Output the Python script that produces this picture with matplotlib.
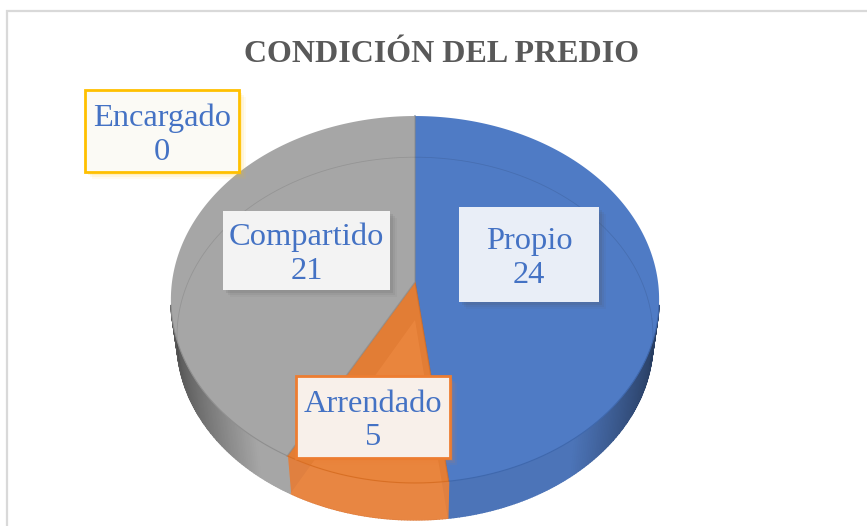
#!/usr/bin/python
# coding: utf-8
import numpy as np
import matplotlib
matplotlib.use('Agg')
import matplotlib.pyplot as plt
from matplotlib.patches import Rectangle

plt.rcParams['font.family'] = ['Liberation Serif', 'DejaVu Serif']

categorias = ['Propio', 'Arrendado', 'Compartido', 'Encargado']
valores = [24, 5, 21, 0]
titulo = 'CONDICIÓN DEL PREDIO'

col_top = ['#4f7bc5', '#e27d35', '#a6a6a6', '#ffc000']
col_wall = ['#4c74b8', '#e08040', '#a6a6a6', '#ffc000']
col_edge = ['#3f68ad', '#d86f24', '#8f8f8f', '#ffc000']
col_box_edge = [None, '#ed7d31', None, '#ffc000']
col_box_fill = ['#e9eef7', '#f8f0ea', '#f3f3f3', '#fbfaf5']
# caja de cada etiqueta: x0, y0, x1, y1 en pixeles
cajas = [(459, 207, 599, 302), (296, 376, 450, 458), (223, 211, 390, 290), (85, 90, 239, 172)]

# geometria del pie en perspectiva
cx, cy = 415., 282.
kx, ky, kp = 243., 181.8, 0.0954
# base: escala y desplazamiento
sb, dy = 0.975, 42.


def proj(ang, r=1., s=1., off=0.):
    x = r * np.cos(ang)
    y = r * np.sin(ang)
    w = 1 + kp * y
    return cx + s * kx * x / w, cy + off - s * ky * y / w


def shade(col, f):
    c = np.array(matplotlib.colors.to_rgb(col))
    return tuple(c * f)


fig = plt.figure(figsize=(8.67, 5.26), dpi=100)
ax = fig.add_axes([0, 0, 1, 1])
ax.set_xlim(0, 867)
ax.set_ylim(526, 0)
ax.axis('off')

ax.add_patch(Rectangle((6.5, 11), 900, 600, fc='white', ec='#d9d9d9', lw=1.6, zorder=0))

# angulos de cada sector, desde las 12 en sentido horario
fr = np.array(valores, dtype=float) / np.sum(valores)
fin = np.pi / 2 - 2 * np.pi * np.cumsum(fr)
ini = np.r_[np.pi / 2, fin[:-1]]

# pared lateral (solo la parte frontal), por segmentos
for i in range(len(valores)):
    if valores[i] == 0:
        continue
    tt = np.linspace(ini[i], fin[i], int(abs(ini[i] - fin[i]) * 90) + 2)
    for a0, a1 in zip(tt[:-1], tt[1:]):
        if np.sin((a0 + a1) / 2) > -0.12:
            continue
        xa, ya = proj(np.array([a0, a1]))
        xb, yb = proj(np.array([a1, a0]), s=sb, off=dy)
        c = abs(np.cos((a0 + a1) / 2))
        if i == 1:
            f = 1.0
        else:
            f = 1.0 - 0.5 * max(c - 0.6, 0) / 0.4
        col = shade(col_wall[i], f)
        ax.fill(np.r_[xa, xb], np.r_[ya, yb], fc=col, ec=col, lw=1.0, zorder=1)

# cara superior
for i in range(len(valores)):
    if valores[i] == 0:
        continue
    tt = np.linspace(ini[i], fin[i], 200)
    xs, ys = proj(tt)
    ax.fill(np.r_[cx, xs], np.r_[cy, ys], fc=col_top[i], ec='none', zorder=2)
    # aristas radiales
    ax.plot([xs[0], cx, xs[-1]], [ys[0], cy, ys[-1]], color=col_edge[i], lw=0.9, alpha=0.8, zorder=2)

# cara inferior vista a traves del sector naranja
tt = np.linspace(ini[1], fin[1], 80)
xs, ys = proj(tt, s=sb, off=dy)
ax.fill(np.r_[cx, xs], np.r_[cy + dy - 4, ys], fc='#f08c45', ec='none', alpha=0.55, zorder=3)

# borde de la base, visible por transparencia en la parte trasera
tt = np.linspace(0, 2 * np.pi, 400)
xs, ys = proj(tt, s=sb, off=dy - 5)
m = np.sin(tt) > -0.25
ax.plot(np.where(m, xs, np.nan), np.where(m, ys, np.nan), color='k', alpha=0.10, lw=0.6, zorder=3)

# arista frontal de la cara superior
for i in range(3):
    tt = np.linspace(ini[i], fin[i], 200)
    xs, ys = proj(tt)
    m = np.sin(tt) < -0.12
    ax.plot(np.where(m, xs, np.nan), np.where(m, ys, np.nan), color=col_edge[i], lw=0.8, zorder=3)

# etiquetas
for i in range(len(categorias)):
    x0, y0, x1, y1 = cajas[i]
    for d, a in zip([8, 6, 4], [0.06, 0.09, 0.13]):
        sc = col_box_edge[i] if col_box_edge[i] else '#555555'
        ax.add_patch(Rectangle((x0 + d - 1, y0 + d - 1), x1 - x0, y1 - y0, fc=sc, ec='none', alpha=a, zorder=4))
    ec = col_box_edge[i] if col_box_edge[i] else 'none'
    ax.add_patch(Rectangle((x0, y0), x1 - x0, y1 - y0, fc=col_box_fill[i], ec=ec, lw=2.0, zorder=5))
    ax.text((x0 + x1) / 2, (y0 + y1) / 2 + 4, '%s\n%d' % (categorias[i], valores[i]), color='#4472c4',
            fontsize=23.4, ha='center', va='center', linespacing=1.22, zorder=6)

ax.text(441.5, 54, titulo, color='#595959', fontsize=23, fontweight='bold', ha='center', va='center')

fig.savefig('out.png', dpi=100)
